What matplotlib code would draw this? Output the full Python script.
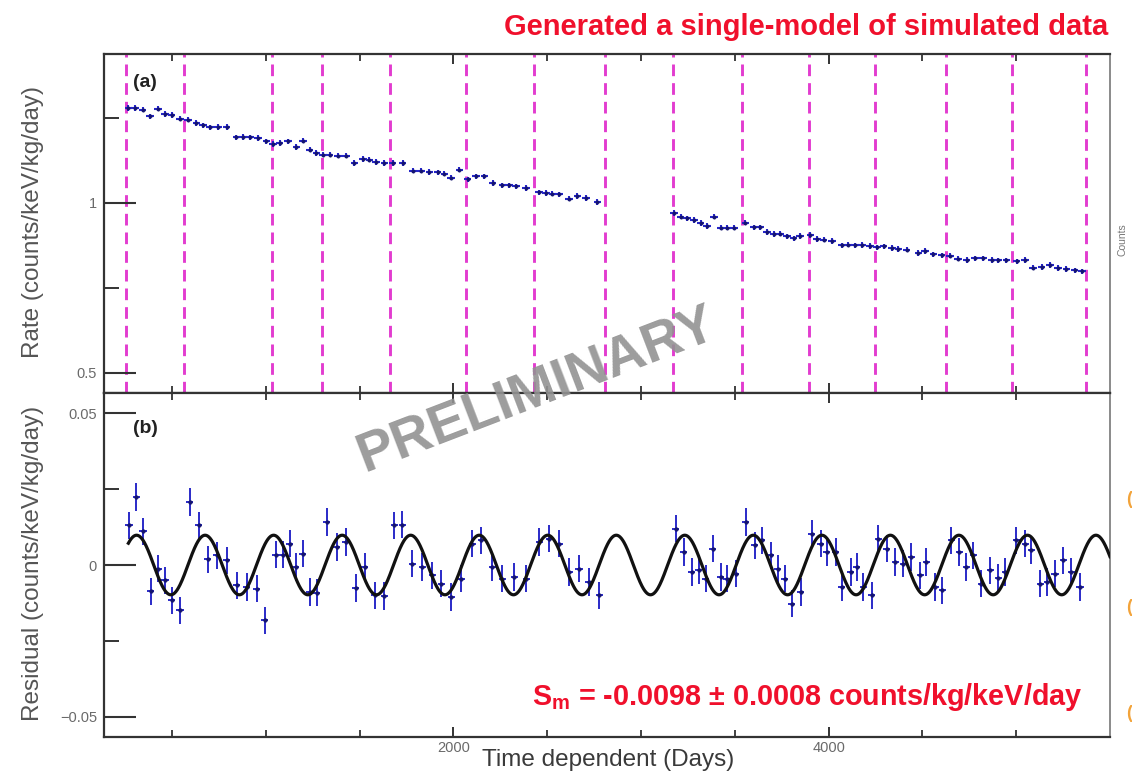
import numpy as np
import matplotlib
matplotlib.use("Agg")
import matplotlib.pyplot as plt
from matplotlib.ticker import FixedLocator, NullFormatter, FixedFormatter

plt.rcParams['font.family'] = ['Liberation Sans', 'DejaVu Sans']
plt.rcParams['mathtext.fontset'] = 'custom'
plt.rcParams['mathtext.rm'] = 'Liberation Sans'
plt.rcParams['mathtext.bf'] = 'Liberation Sans:bold'

# ---- panel (a): binned rate, first running period ----
rate_days_1 = [268, 303, 344, 383, 427, 463, 498, 543, 587, 631,
               666, 702, 746, 791, 844, 879, 915, 959, 1004, 1039,
               1074, 1119, 1163, 1198, 1234, 1270, 1305, 1340, 1385, 1429,
               1473, 1518, 1553, 1589, 1633, 1677, 1730, 1784, 1828, 1872,
               1916, 1952, 1988, 2032, 2076, 2121, 2165, 2209, 2262, 2298,
               2334, 2387, 2457, 2493, 2528, 2564, 2617, 2661, 2706, 2768]
rate_vals_1 = [1.279, 1.279, 1.274, 1.255, 1.277, 1.262, 1.258, 1.248, 1.245, 1.235,
               1.228, 1.222, 1.223, 1.223, 1.193, 1.194, 1.193, 1.191, 1.181, 1.173,
               1.176, 1.181, 1.164, 1.183, 1.157, 1.147, 1.142, 1.142, 1.139, 1.139,
               1.118, 1.129, 1.127, 1.120, 1.118, 1.118, 1.118, 1.095, 1.095, 1.091,
               1.090, 1.086, 1.074, 1.098, 1.069, 1.078, 1.078, 1.059, 1.052, 1.052,
               1.049, 1.044, 1.031, 1.029, 1.027, 1.025, 1.013, 1.020, 1.015, 1.003]

# ---- panel (a): binned rate, second running period ----
rate_days_2 = [3176, 3211, 3246, 3282, 3318, 3353, 3388, 3424, 3459, 3495,
               3557, 3601, 3637, 3672, 3707, 3743, 3778, 3814, 3849, 3903,
               3938, 3973, 4018, 4071, 4106, 4142, 4177, 4222, 4257, 4293,
               4337, 4372, 4416, 4479, 4514, 4559, 4603, 4647, 4691, 4736,
               4780, 4824, 4869, 4904, 4948, 5002, 5046, 5090, 5135, 5179,
               5223, 5268, 5312, 5351]
rate_vals_2 = [0.970, 0.960, 0.955, 0.950, 0.941, 0.932, 0.960, 0.927, 0.927, 0.927,
               0.942, 0.928, 0.928, 0.914, 0.909, 0.910, 0.902, 0.896, 0.903, 0.906,
               0.894, 0.892, 0.888, 0.875, 0.877, 0.875, 0.876, 0.873, 0.869, 0.872,
               0.867, 0.865, 0.863, 0.853, 0.859, 0.849, 0.846, 0.845, 0.836, 0.832,
               0.837, 0.837, 0.832, 0.831, 0.831, 0.828, 0.832, 0.810, 0.812, 0.818,
               0.808, 0.806, 0.802, 0.799]

# ---- panel (b): residuals ----
resid_days_1 = [271, 309, 346, 388, 426, 463, 500, 543, 596, 644,
                691, 739, 793, 846, 899, 952, 995, 1053, 1090, 1128,
                1160, 1197, 1234, 1271, 1324, 1378, 1426, 1479, 1527, 1580,
                1633, 1686, 1729, 1782, 1835, 1888, 1936, 1989, 2043, 2101,
                2149, 2207, 2261, 2324, 2388, 2457, 2511, 2564, 2617, 2670,
                2723, 2777]
resid_vals_1 = [0.0131, 0.0224, 0.0111, -0.0087, -0.0012, -0.0050, -0.0116, -0.0149, 0.0207, 0.0131,
                0.0019, 0.0032, 0.0015, -0.0067, -0.0072, -0.0078, -0.0182, 0.0034, 0.0034, 0.0070,
                -0.0007, 0.0037, -0.0089, -0.0091, 0.0142, 0.0059, 0.0076, -0.0076, -0.0007, -0.0100,
                -0.0102, 0.0131, 0.0133, 0.0004, -0.0007, -0.0034, -0.0061, -0.0105, -0.0045, 0.0070,
                0.0081, -0.0007, -0.0045, -0.0039, -0.0045, 0.0076, 0.0087, 0.0070, -0.0023, -0.0012,
                -0.0056, -0.0100]
resid_days_2 = [3186, 3229, 3271, 3309, 3346, 3383, 3426, 3457, 3505, 3559,
                3606, 3644, 3691, 3729, 3766, 3803, 3851, 3910, 3957, 3989,
                4037, 4069, 4117, 4149, 4186, 4229, 4266, 4309, 4356, 4399,
                4441, 4489, 4521, 4569, 4606, 4654, 4697, 4734, 4771, 4814,
                4862, 4904, 4941, 5000, 5048, 5080, 5128, 5165, 5207, 5250,
                5293, 5340]
resid_vals_2 = [0.0120, 0.0043, -0.0023, -0.0018, -0.0045, 0.0054, -0.0039, -0.0045, -0.0029, 0.0142,
                0.0065, 0.0081, 0.0032, -0.0012, -0.0045, -0.0127, -0.0089, 0.0103, 0.0070, 0.0043,
                0.0043, -0.0072, -0.0023, -0.0007, -0.0072, -0.0100, 0.0087, 0.0054, 0.0010, 0.0004,
                0.0026, -0.0034, 0.0010, -0.0072, -0.0083, 0.0081, 0.0043, -0.0007, 0.0032, -0.0061,
                -0.0018, -0.0043, -0.0023, 0.0081, 0.0070, 0.0048, -0.0061, -0.0056, -0.0029, 0.0015,
                -0.0023, -0.0072]

# calibration / run boundaries (days)
boundary_days = [255, 564, 1032, 1298, 1660, 2069, 2431, 2809, 3170,
                 3537, 3894, 4250, 4628, 4979, 5372]

# modulation fit
sm_value = -0.0098
sm_error = 0.0008
period_days = 365.25
phase_day = 129.0

x_range = (138, 5500)
rate_range = (0.441, 1.438)
resid_range = (-0.0566, 0.0566)

rate_xerr, rate_yerr = 20, 0.008
resid_xerr, resid_yerr = 19, 0.0045

RED = '#f0102c'
FRAME = '#333333'

fig = plt.figure(figsize=(11.32, 7.73), dpi=100)
ax_a = fig.add_axes([0.09187, 0.49159, 0.88870, 0.43855])
ax_b = fig.add_axes([0.09187, 0.04657, 0.88870, 0.44502])

pt_a = dict(fmt='o', ms=2.4, mfc='#14146e', mec='#14146e', mew=0.4,
            ecolor='#2626c8', elinewidth=1.5, capsize=0, zorder=3)
pt_b = dict(fmt='o', ms=2.6, mfc='#14146e', mec='#14146e', mew=0.4,
            ecolor='#2a2ac8', elinewidth=1.4, capsize=0, zorder=3)

# ---- panel (a) ----
for d in boundary_days:
    ax_a.axvline(d, color='#e23ccf', lw=2.1, dashes=(4.0, 2.4), zorder=1)
ax_a.errorbar(rate_days_1, rate_vals_1, xerr=rate_xerr, yerr=rate_yerr, **pt_a)
ax_a.errorbar(rate_days_2, rate_vals_2, xerr=rate_xerr, yerr=rate_yerr, **pt_a)
ax_a.set_xlim(*x_range)
ax_a.set_ylim(*rate_range)

# ---- panel (b) ----
t_fit = np.linspace(rate_days_1[0], x_range[1], 3000)
fit_curve = sm_value * np.cos(2 * np.pi * (t_fit - phase_day) / period_days)
ax_b.plot(t_fit, fit_curve, color='#111111', lw=2.3, zorder=4)
ax_b.errorbar(resid_days_1, resid_vals_1, xerr=resid_xerr, yerr=resid_yerr, **pt_b)
ax_b.errorbar(resid_days_2, resid_vals_2, xerr=resid_xerr, yerr=resid_yerr, **pt_b)
ax_b.set_xlim(*x_range)
ax_b.set_ylim(*resid_range)

# ---- axes styling ----
for ax in (ax_a, ax_b):
    for s in ax.spines.values():
        s.set_color(FRAME)
        s.set_linewidth(1.6)
    ax.spines['right'].set_color('#777777')
    ax.spines['right'].set_linewidth(1.2)
    ax.xaxis.set_major_locator(FixedLocator([2000, 4000]))
    ax.xaxis.set_minor_locator(FixedLocator([500, 1000, 1500, 2500, 3000, 3500, 4500, 5000]))
    ax.tick_params(axis='x', which='major', direction='in', top=True, bottom=True,
                   length=7, width=1.4, color=FRAME, labelsize=10.5,
                   labelcolor='#6a6a6a', pad=3)
    ax.tick_params(axis='x', which='minor', direction='in', top=True, bottom=True,
                   length=5, width=1.3, color=FRAME)
    ax.tick_params(axis='y', which='major', direction='in', left=True, right=False,
                   length=23, width=1.5, color=FRAME, labelsize=10.5,
                   labelcolor='#6a6a6a', pad=5)
    ax.tick_params(axis='y', which='minor', direction='in', left=True, right=False,
                   length=11, width=1.4, color=FRAME)

ax_a.xaxis.set_major_formatter(NullFormatter())
ax_a.yaxis.set_major_locator(FixedLocator([0.5, 1.0]))
ax_a.yaxis.set_major_formatter(FixedFormatter(['0.5', '1']))
ax_a.yaxis.set_minor_locator(FixedLocator([0.75, 1.25]))

ax_b.xaxis.set_major_formatter(FixedFormatter(['2000', '4000']))
ax_b.yaxis.set_major_locator(FixedLocator([-0.05, 0.0, 0.05]))
ax_b.yaxis.set_major_formatter(FixedFormatter(['\u22120.05', '0', '0.05']))
ax_b.yaxis.set_minor_locator(FixedLocator([-0.025, 0.025]))

# panel tags
ax_a.text(0.029, 0.917, '(a)', transform=ax_a.transAxes, fontsize=14,
          fontweight='bold', color='#222222', va='center', ha='left')
ax_b.text(0.029, 0.898, '(b)', transform=ax_b.transAxes, fontsize=14,
          fontweight='bold', color='#222222', va='center', ha='left')

# fitted amplitude annotation
sm_label = r'S$_\mathbf{m}$' + ' = %.4f \u00b1 %.4f counts/kg/keV/day' % (sm_value, sm_error)
ax_b.text(0.4254, 0.116, sm_label, transform=ax_b.transAxes, fontsize=20.7,
          fontweight='bold', color=RED, ha='left', va='center', zorder=6)

# axis titles
fig.text(33 / 1132, 1 - 222 / 773, 'Rate (counts/keV/kg/day)', rotation=90,
         fontsize=17.5, color='#555555', ha='center', va='center')
fig.text(33 / 1132, 1 - 563 / 773, 'Residual (counts/keV/kg/day)', rotation=90,
         fontsize=17.5, color='#555555', ha='center', va='center')
fig.text(608 / 1132, 1 - 766 / 773, 'Time dependent (Days)', fontsize=17.5,
         color='#3a3a3a', ha='center', va='baseline')

# heading
fig.text(1108 / 1132, 1 - 35 / 773, 'Generated a single-model of simulated data',
         fontsize=21, fontweight='bold', color=RED, ha='right', va='baseline')

# watermark
fig.text(537 / 1132, 1 - 391 / 773, 'PRELIMINARY', rotation=21, fontsize=40,
         fontweight='bold', color='#929292', alpha=0.9, ha='center', va='center',
         zorder=10)

# neighbouring-panel remnants at the right border
fig.text(1117 / 1132, 1 - 240 / 773, 'Counts', rotation=90, fontsize=7.5,
         color='#777777', ha='left', va='center')
for yy in (500, 607, 713):
    fig.text(1126 / 1132, 1 - yy / 773, '(', fontsize=13, fontweight='bold',
             color='#f2a33a', ha='left', va='center')

fig.savefig('out.png', dpi=100)
